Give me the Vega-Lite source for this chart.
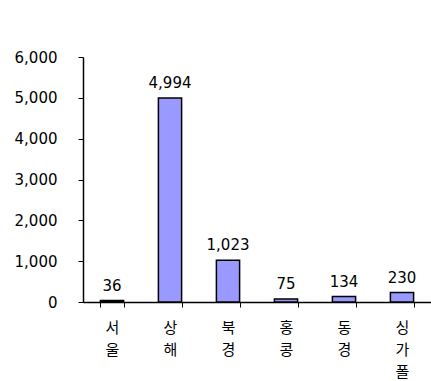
{
  "$schema": "https://vega.github.io/schema/vega-lite/v6.json",
  "width": 348,
  "height": 245,
  "autosize": {"type": "none"},
  "padding": {"left": 83, "top": 57, "right": 0, "bottom": 79},
  "background": "white",
  "config": {"view": {"stroke": null}},
  "data": {
    "values": [
      {"city": "서울", "value": 36},
      {"city": "상해", "value": 4994},
      {"city": "북경", "value": 1023},
      {"city": "홍콩", "value": 75},
      {"city": "동경", "value": 134},
      {"city": "싱가폴", "value": 230}
    ]
  },
  "encoding": {
    "x": {
      "field": "city",
      "type": "nominal",
      "sort": null,
      "scale": {"paddingInner": 0.6, "paddingOuter": 0.3},
      "axis": {
        "title": null,
        "labelAngle": 0,
        "labelExpr": "split(datum.label, '')",
        "labelFont": "Noto Sans CJK KR",
        "labelFontSize": 15,
        "labelColor": "black",
        "labelLineHeight": 22,
        "labelBaseline": "top",
        "labelPadding": 13,
        "ticks": true,
        "tickBand": "extent",
        "tickSize": 5,
        "tickColor": "black",
        "domainColor": "black",
        "domainWidth": 1.5,
        "tickWidth": 1
      }
    },
    "y": {
      "field": "value",
      "type": "quantitative",
      "scale": {"domain": [0, 6000], "nice": false},
      "axis": {
        "title": null,
        "values": [0, 1000, 2000, 3000, 4000, 5000, 6000],
        "format": ",d",
        "grid": false,
        "labelFont": "DejaVu Sans",
        "labelFontSize": 15,
        "labelColor": "black",
        "labelPadding": 21,
        "ticks": true,
        "tickSize": 5,
        "tickColor": "black",
        "domainColor": "black",
        "domainWidth": 1.5,
        "tickWidth": 1
      }
    }
  },
  "layer": [
    {
      "mark": {"type": "bar", "fill": "#9999FF", "stroke": "black", "strokeWidth": 1.5}
    },
    {
      "mark": {"type": "text", "baseline": "bottom", "dy": -7, "font": "DejaVu Sans", "fontSize": 15, "color": "black"},
      "encoding": {"text": {"field": "value", "type": "quantitative", "format": ",d"}}
    }
  ]
}
